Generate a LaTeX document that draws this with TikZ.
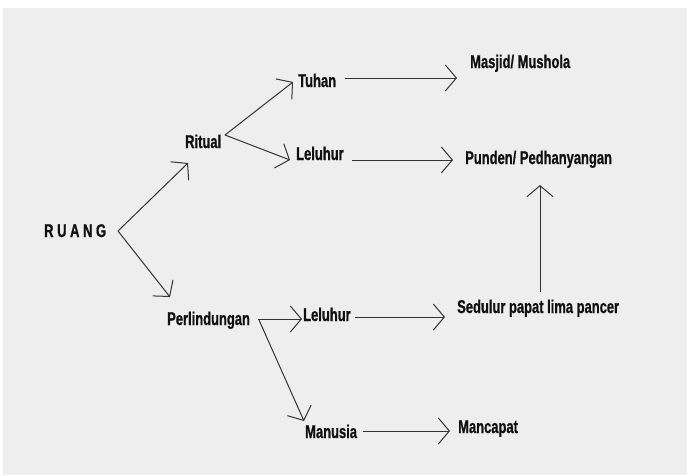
\documentclass[tikz,border=0pt]{standalone}
\usepackage{fontspec}
\newfontfamily\narrowfont[FakeStretch=0.70,BoldFeatures={FakeBold=0.8}]{Liberation Sans}
\usetikzlibrary{arrows.meta}
\definecolor{bggray}{HTML}{EEEEEE}
\definecolor{inkline}{HTML}{333333}
\definecolor{inktext}{HTML}{111111}
\tikzset{
  lbl/.style={anchor=base west, inner sep=0pt, text=inktext, font=\narrowfont\bfseries\fontsize{18.5}{20}\selectfont},
  conn/.style={draw=inkline, line width=1pt, -{Straight Barb[length=11pt,width=26pt,line width=1pt]}}
}
\begin{document}
\begin{tikzpicture}[x=1pt,y=-1pt]
\useasboundingbox (0,0) rectangle (687,475);
\fill[white] (0,0) rectangle (687,475);
\fill[bggray] (3,8) rectangle (687,475);

\node[lbl] (ruang) at (44,237) {R U A N G};
\node[lbl] (ritual) at (185,148) {Ritual};
\node[lbl] (perl) at (167,325) {Perlindungan};
\node[lbl] (tuhan) at (298,87) {Tuhan};
\node[lbl] (lel1) at (296,160) {Leluhur};
\node[lbl] (masjid) at (470,68) {Masjid/ Mushola};
\node[lbl] (punden) at (465,164) {Punden/ Pedhanyangan};
\node[lbl] (lel2) at (303,321) {Leluhur};
\node[lbl] (sedulur) at (457,313) {Sedulur papat lima pancer};
\node[lbl] (manusia) at (305,438) {Manusia};
\node[lbl] (mancapat) at (458,433) {Mancapat};

\draw[conn] ([xshift=74pt,yshift=6pt]ruang.base west) -- ([xshift=3pt,yshift=-15pt]ritual.base west);
\draw[conn] ([xshift=74pt,yshift=6pt]ruang.base west) -- ([xshift=3pt,yshift=28pt]perl.base west);
\draw[conn] ([xshift=40pt,yshift=13pt]ritual.base west) -- ([xshift=-5pt,yshift=5pt]tuhan.base west);
\draw[conn] ([xshift=40pt,yshift=13pt]ritual.base west) -- ([xshift=-6pt,yshift=0pt]lel1.base west);
\draw[conn] ([xshift=47pt,yshift=9pt]tuhan.base west) -- ([xshift=-13pt,yshift=-10pt]masjid.base west);
\draw[conn] ([xshift=56pt,yshift=0pt]lel1.base west) -- ([xshift=-12pt,yshift=4pt]punden.base west);
\draw[conn] ([xshift=91pt,yshift=6pt]perl.base west) -- ([xshift=-1pt,yshift=2pt]lel2.base west);
\draw[conn] ([xshift=92pt,yshift=5pt]perl.base west) -- ([xshift=-1pt,yshift=17pt]manusia.base west);
\draw[conn] ([xshift=52pt,yshift=4pt]lel2.base west) -- ([xshift=-12pt,yshift=-4pt]sedulur.base west);
\draw[conn] ([xshift=58pt,yshift=7pt]manusia.base west) -- ([xshift=-8pt,yshift=2pt]mancapat.base west);
\draw[conn] ([xshift=83pt,yshift=21pt]sedulur.base west) -- ([xshift=75pt,yshift=-21pt]punden.base west);
\end{tikzpicture}
\end{document}
